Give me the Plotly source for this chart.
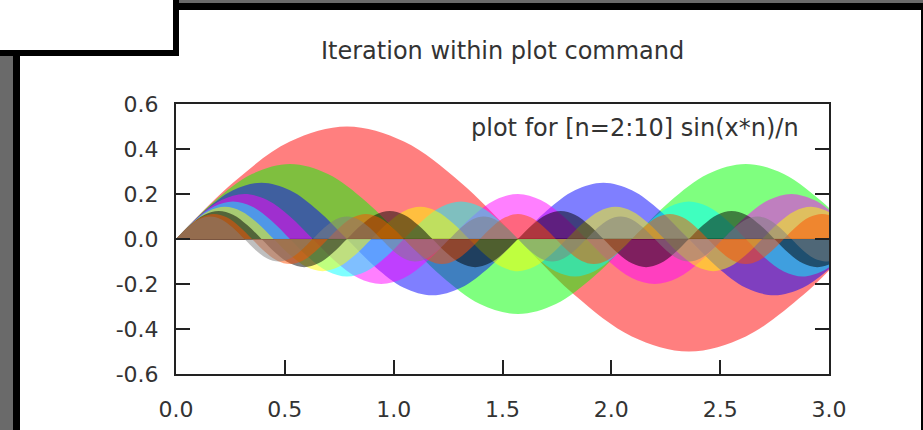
import plotly.graph_objects as go

# ---- data: sampled points of each curve  sin(x*n)/n , n = 2..10 ----
x_n2 = [0, 0.2618, 0.5236, 0.7854, 1.0472, 1.3090, 1.5708, 1.8326, 2.0944, 2.3562, 2.6180, 2.8798, 3.0]
y_n2 = [0, 0.25, 0.433, 0.5, 0.433, 0.25, 0, -0.25, -0.433, -0.5, -0.433, -0.25, -0.1397]

x_n3 = [0, 0.1745, 0.3491, 0.5236, 0.6981, 0.8727, 1.0472, 1.2217, 1.3963, 1.5708, 1.7453, 1.9199,
        2.0944, 2.2689, 2.4435, 2.6180, 2.7925, 2.9671, 3.0]
y_n3 = [0, 0.1667, 0.2887, 0.3333, 0.2887, 0.1667, 0, -0.1667, -0.2887, -0.3333, -0.2887, -0.1667,
        0, 0.1667, 0.2887, 0.3333, 0.2887, 0.1667, 0.1374]

x_n4 = [0, 0.1309, 0.2618, 0.3927, 0.5236, 0.6545, 0.7854, 0.9163, 1.0472, 1.1781, 1.3090, 1.4399,
        1.5708, 1.7017, 1.8326, 1.9635, 2.0944, 2.2253, 2.3562, 2.4871, 2.6180, 2.7489, 2.8798, 3.0]
y_n4 = [0, 0.125, 0.2165, 0.25, 0.2165, 0.125, 0, -0.125, -0.2165, -0.25, -0.2165, -0.125,
        0, 0.125, 0.2165, 0.25, 0.2165, 0.125, 0, -0.125, -0.2165, -0.25, -0.2165, -0.1341]

x_n5 = [0, 0.1047, 0.2094, 0.3142, 0.4189, 0.5236, 0.6283, 0.7330, 0.8378, 0.9425, 1.0472, 1.1519,
        1.2566, 1.3614, 1.4661, 1.5708, 1.6755, 1.7802, 1.8850, 1.9897, 2.0944, 2.1991, 2.3038, 2.4086,
        2.5133, 2.6180, 2.7227, 2.8274, 2.9322, 3.0]
y_n5 = [0, 0.1, 0.1732, 0.2, 0.1732, 0.1, 0, -0.1, -0.1732, -0.2, -0.1732, -0.1,
        0, 0.1, 0.1732, 0.2, 0.1732, 0.1, 0, -0.1, -0.1732, -0.2, -0.1732, -0.1,
        0, 0.1, 0.1732, 0.2, 0.1732, 0.1301]

x_n6 = [0, 0.0873, 0.1745, 0.2618, 0.3491, 0.4363, 0.5236, 0.6109, 0.6981, 0.7854, 0.8727, 0.9599,
        1.0472, 1.1345, 1.2217, 1.3090, 1.3963, 1.4835, 1.5708, 1.6581, 1.7453, 1.8326, 1.9199, 2.0071,
        2.0944, 2.1817, 2.2689, 2.3562, 2.4435, 2.5307, 2.6180, 2.7053, 2.7925, 2.8798, 2.9671, 3.0]
y_n6 = [0, 0.0833, 0.1443, 0.1667, 0.1443, 0.0833, 0, -0.0833, -0.1443, -0.1667, -0.1443, -0.0833,
        0, 0.0833, 0.1443, 0.1667, 0.1443, 0.0833, 0, -0.0833, -0.1443, -0.1667, -0.1443, -0.0833,
        0, 0.0833, 0.1443, 0.1667, 0.1443, 0.0833, 0, -0.0833, -0.1443, -0.1667, -0.1443, -0.1252]

x_n7 = [0, 0.0748, 0.1496, 0.2244, 0.2992, 0.3740, 0.4488, 0.5236, 0.5984, 0.6732, 0.7480, 0.8228,
        0.8976, 0.9724, 1.0472, 1.1220, 1.1968, 1.2716, 1.3464, 1.4212, 1.4960, 1.5708, 1.6456, 1.7204,
        1.7952, 1.8700, 1.9448, 2.0196, 2.0944, 2.1692, 2.2440, 2.3188, 2.3936, 2.4684, 2.5432, 2.6180,
        2.6928, 2.7676, 2.8424, 2.9172, 2.9920, 3.0]
y_n7 = [0, 0.0714, 0.1237, 0.1429, 0.1237, 0.0714, 0, -0.0714, -0.1237, -0.1429, -0.1237, -0.0714,
        0, 0.0714, 0.1237, 0.1429, 0.1237, 0.0714, 0, -0.0714, -0.1237, -0.1429, -0.1237, -0.0714,
        0, 0.0714, 0.1237, 0.1429, 0.1237, 0.0714, 0, -0.0714, -0.1237, -0.1429, -0.1237, -0.0714,
        0, 0.0714, 0.1237, 0.1429, 0.1237, 0.1195]

x_n8 = [0, 0.0654, 0.1309, 0.1963, 0.2618, 0.3272, 0.3927, 0.4581, 0.5236, 0.5890, 0.6545, 0.7199,
        0.7854, 0.8508, 0.9163, 0.9817, 1.0472, 1.1126, 1.1781, 1.2435, 1.3090, 1.3744, 1.4399, 1.5053,
        1.5708, 1.6362, 1.7017, 1.7671, 1.8326, 1.8980, 1.9635, 2.0289, 2.0944, 2.1598, 2.2253, 2.2907,
        2.3562, 2.4216, 2.4871, 2.5525, 2.6180, 2.6834, 2.7489, 2.8143, 2.8798, 2.9452, 3.0]
y_n8 = [0, 0.0625, 0.1083, 0.125, 0.1083, 0.0625, 0, -0.0625, -0.1083, -0.125, -0.1083, -0.0625,
        0, 0.0625, 0.1083, 0.125, 0.1083, 0.0625, 0, -0.0625, -0.1083, -0.125, -0.1083, -0.0625,
        0, 0.0625, 0.1083, 0.125, 0.1083, 0.0625, 0, -0.0625, -0.1083, -0.125, -0.1083, -0.0625,
        0, 0.0625, 0.1083, 0.125, 0.1083, 0.0625, 0, -0.0625, -0.1083, -0.125, -0.1132]

x_n9 = [0, 0.0582, 0.1164, 0.1745, 0.2327, 0.2909, 0.3491, 0.4072, 0.4654, 0.5236, 0.5818, 0.6400,
        0.6981, 0.7563, 0.8145, 0.8727, 0.9308, 0.9890, 1.0472, 1.1054, 1.1636, 1.2217, 1.2799, 1.3381,
        1.3963, 1.4544, 1.5126, 1.5708, 1.6290, 1.6872, 1.7453, 1.8035, 1.8617, 1.9199, 1.9780, 2.0362,
        2.0944, 2.1526, 2.2107, 2.2689, 2.3271, 2.3853, 2.4435, 2.5016, 2.5598, 2.6180, 2.6762, 2.7343,
        2.7925, 2.8507, 2.9089, 2.9671, 3.0]
y_n9 = [0, 0.0556, 0.0962, 0.1111, 0.0962, 0.0556, 0, -0.0556, -0.0962, -0.1111, -0.0962, -0.0556,
        0, 0.0556, 0.0962, 0.1111, 0.0962, 0.0556, 0, -0.0556, -0.0962, -0.1111, -0.0962, -0.0556,
        0, 0.0556, 0.0962, 0.1111, 0.0962, 0.0556, 0, -0.0556, -0.0962, -0.1111, -0.0962, -0.0556,
        0, 0.0556, 0.0962, 0.1111, 0.0962, 0.0556, 0, -0.0556, -0.0962, -0.1111, -0.0962, -0.0556,
        0, 0.0556, 0.0962, 0.1111, 0.1063]

x_n10 = [0, 0.0524, 0.1047, 0.1571, 0.2094, 0.2618, 0.3142, 0.3665, 0.4189, 0.4712, 0.5236, 0.5760,
         0.6283, 0.6807, 0.7330, 0.7854, 0.8378, 0.8901, 0.9425, 0.9948, 1.0472, 1.0996, 1.1519, 1.2043,
         1.2566, 1.3090, 1.3614, 1.4137, 1.4661, 1.5184, 1.5708, 1.6232, 1.6755, 1.7279, 1.7802, 1.8326,
         1.8850, 1.9373, 1.9897, 2.0420, 2.0944, 2.1468, 2.1991, 2.2515, 2.3038, 2.3562, 2.4086, 2.4609,
         2.5133, 2.5656, 2.6180, 2.6704, 2.7227, 2.7751, 2.8274, 2.8798, 2.9322, 2.9845, 3.0]
y_n10 = [0, 0.05, 0.0866, 0.1, 0.0866, 0.05, 0, -0.05, -0.0866, -0.1, -0.0866, -0.05,
         0, 0.05, 0.0866, 0.1, 0.0866, 0.05, 0, -0.05, -0.0866, -0.1, -0.0866, -0.05,
         0, 0.05, 0.0866, 0.1, 0.0866, 0.05, 0, -0.05, -0.0866, -0.1, -0.0866, -0.05,
         0, 0.05, 0.0866, 0.1, 0.0866, 0.05, 0, -0.05, -0.0866, -0.1, -0.0866, -0.05,
         0, 0.05, 0.0866, 0.1, 0.0866, 0.05, 0, -0.05, -0.0866, -0.1, -0.0988]

series_n = [2, 3, 4, 5, 6, 7, 8, 9, 10]
series_x = [x_n2, x_n3, x_n4, x_n5, x_n6, x_n7, x_n8, x_n9, x_n10]
series_y = [y_n2, y_n3, y_n4, y_n5, y_n6, y_n7, y_n8, y_n9, y_n10]

x_tick_vals = [0.0, 0.5, 1.0, 1.5, 2.0, 2.5, 3.0]
x_tick_text = ["0.0", "0.5", "1.0", "1.5", "2.0", "2.5", "3.0"]
y_tick_vals = [-0.6, -0.4, -0.2, 0.0, 0.2, 0.4, 0.6]
y_tick_text = ["-0.6", "-0.4", "-0.2", "0.0", "0.2", "0.4", "0.6"]

title_text = "Iteration within plot command"
key_text = "plot for [n=2:10] sin(x*n)/n"

# ---- styling ----
fill_rgb = [(255, 0, 0), (0, 255, 0), (0, 0, 255), (255, 0, 255), (0, 255, 255),
            (255, 255, 0), (0, 0, 0), (255, 77, 0), (128, 128, 128)]
FONT = "DejaVu Sans"
INK = "#222222"
W, H = 923, 430
L, R, T, B = 176, 829, 104, 374  # plot box in pixels


def px(x):
    return (x - L) / (R - L)


def py(y):
    return (B - y) / (B - T)


fig = go.Figure()
for n, xs, ys, c in zip(series_n, series_x, series_y, fill_rgb):
    fig.add_trace(go.Scatter(
        x=xs, y=ys, mode="lines", fill="tozeroy",
        fillcolor="rgba(%d,%d,%d,0.5)" % c,
        line=dict(width=0, shape="spline", color="rgba(%d,%d,%d,0.5)" % c),
        hoverinfo="skip", name="n=%d" % n,
    ))

axis_common = dict(
    showgrid=False, ticks="inside", ticklen=14, tickwidth=2, tickcolor=INK,
    showline=True, linewidth=2, linecolor=INK, automargin=False,
    tickfont=dict(family=FONT, size=22, color="#333333"),
)
fig.update_xaxes(range=[0, 3], tickmode="array", tickvals=x_tick_vals, ticktext=x_tick_text,
                 mirror=True, zeroline=False, ticklabelstandoff=15, **axis_common)
fig.update_yaxes(range=[-0.6, 0.6], tickmode="array", tickvals=y_tick_vals, ticktext=y_tick_text,
                 mirror="ticks", zeroline=True, zerolinecolor="#7a5540", zerolinewidth=2,
                 ticklabelstandoff=11, **axis_common)

shapes = []


def rect(x0, y0, x1, y1, color):
    shapes.append(dict(type="rect", xref="paper", yref="paper",
                       x0=px(x0), x1=px(x1), y0=py(y1), y1=py(y0),
                       fillcolor=color, line=dict(width=0), layer="above"))


GRAY = "#6a6a6a"
rect(173, 0, 179, 56, "#000000")
rect(0, 50, 179, 56, "#000000")
rect(179, 0, W, 3, GRAY)
rect(179, 3, W, 10, "#000000")
rect(0, 56, 13, H, GRAY)
rect(13, 56, 20, H, "#000000")
rect(921, 10, W, H, "#000000")

fig.update_layout(
    width=W, height=H,
    margin=dict(l=L, r=W - R, t=T, b=H - B, pad=0, autoexpand=False),
    paper_bgcolor="white", plot_bgcolor="white",
    showlegend=False,
    shapes=shapes,
    annotations=[
        dict(text=title_text, xref="paper", yref="paper", x=px(502), y=py(51),
             xanchor="center", yanchor="middle", showarrow=False,
             font=dict(family=FONT, size=24, color="#333333")),
        dict(text=key_text, xref="paper", yref="paper", x=px(801), y=py(128),
             xanchor="right", yanchor="middle", showarrow=False,
             font=dict(family=FONT, size=24, color="#333333")),
    ],
)

fig.write_html("out.html", config={"displayModeBar": False},
               post_script="document.body.style.margin='0';document.body.style.overflow='hidden';")
